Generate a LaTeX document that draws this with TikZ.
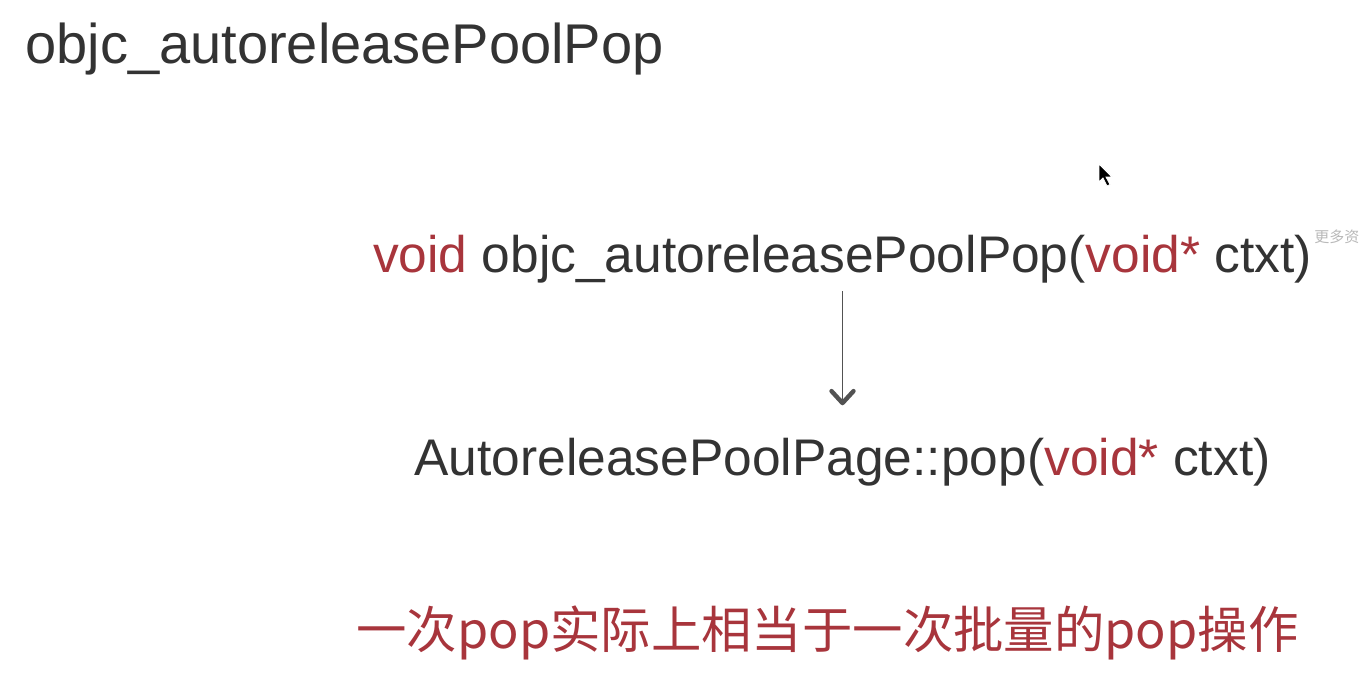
\documentclass[tikz,border=0pt]{standalone}
\usepackage{fontspec}
\setmainfont{Liberation Sans}
\newfontfamily\cjk{Noto Sans CJK SC}
\usetikzlibrary{arrows.meta}
\definecolor{ink}{HTML}{333333}
\definecolor{kw}{HTML}{A8353C}
\begin{document}
\begin{tikzpicture}[x=0.5pt,y=-0.5pt,>={Straight Barb[length=6pt,width=11pt,line width=2.2pt,round]},
    every node/.style={inner sep=0,text=ink},
    code/.style={font=\fontsize{25.75}{30}\selectfont}]
    \useasboundingbox[fill=white] (0,0) rectangle (1360,700);
    \node[anchor=base west,font=\fontsize{28}{34}\selectfont] (title) at (25,64) {objc\_autoreleasePoolPop};
    \node[code,anchor=base] (callpop) at (842.5,272) {\textcolor{kw}{void} objc\_autoreleasePoolPop(\textcolor{kw}{void*} ctxt)};
    \node[code,anchor=base] (pagepop) at (842.5,475) {AutoreleasePoolPage::pop(\textcolor{kw}{void*} ctxt)};
    \node[anchor=base,text=kw,font=\cjk\fontsize{25.2}{30}\selectfont] (note) at (827.5,648) {一次pop实际上相当于一次批量的pop操作};
    \node[anchor=base west,text=gray!55,font=\cjk\fontsize{7.5}{9}\selectfont] (mark) at (1314,243) {更多资};
    \draw[->,draw=ink!85,line width=0.8pt,shorten <=4pt,shorten >=16pt] (callpop) -- (pagepop);
    % mouse pointer
    \filldraw[fill=black,draw=white,line width=0.4pt] (1099,164) -- (1099,182) -- (1103,178) -- (1107,186)
        -- (1110,184.5) -- (1106,177) -- (1112,177) -- cycle;
\end{tikzpicture}
\end{document}
